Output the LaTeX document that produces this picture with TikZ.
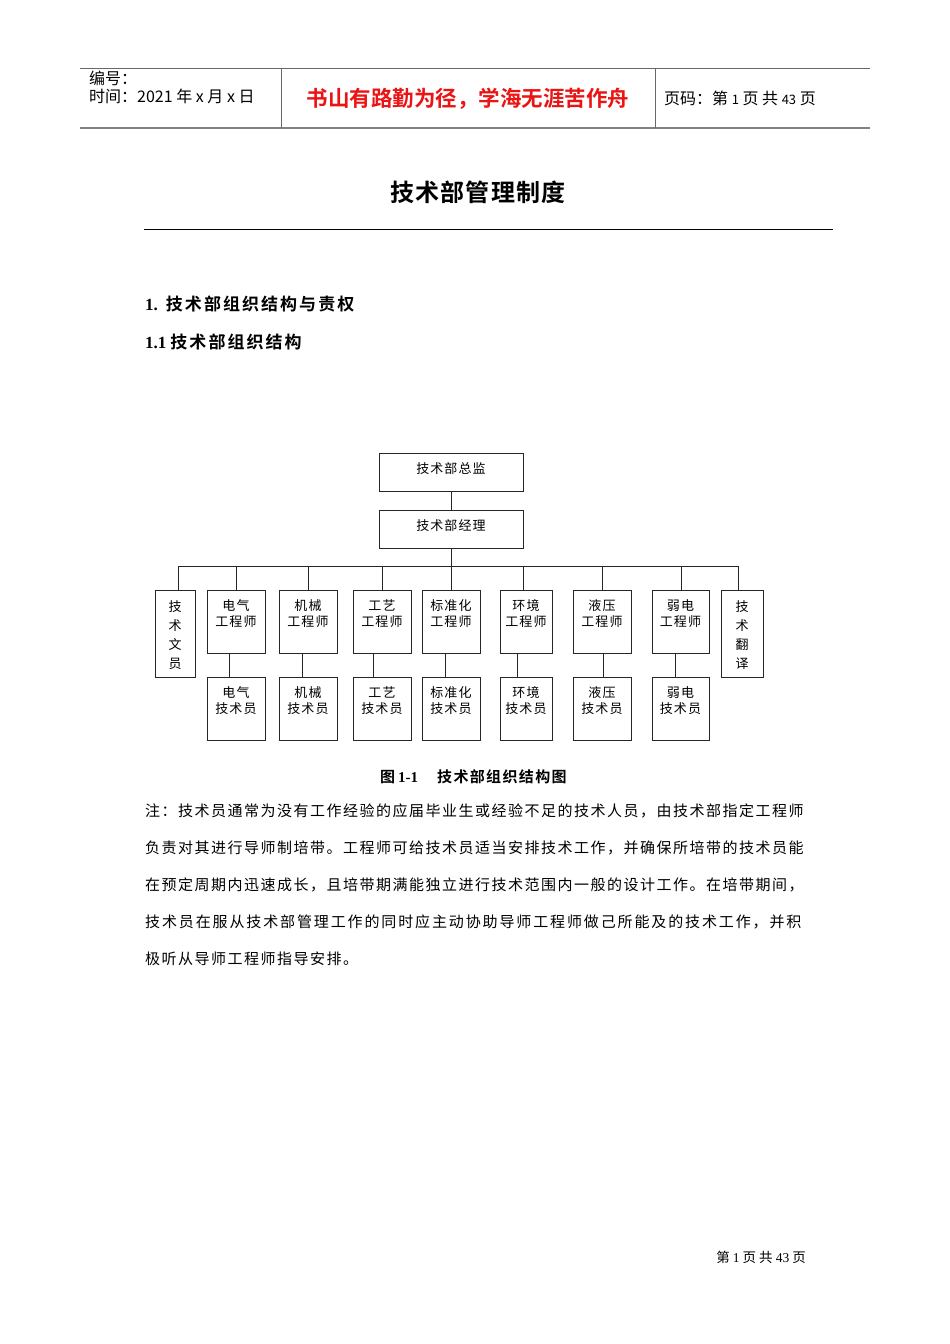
\documentclass[tikz,border=0pt]{standalone}
\usepackage{fontspec}
\setmainfont{Liberation Serif}
\newfontfamily\cjk{Noto Sans CJK SC}[BoldFont={Noto Sans CJK SC Bold}]
\usetikzlibrary{calc}
\definecolor{hdrgray}{RGB}{130,130,130}
\definecolor{motto}{RGB}{235,20,20}
\tikzset{
  bx/.style={draw=black!85, line width=1pt, inner sep=0pt},
  lbl/.style={font=\cjk\fontsize{13}{16}\selectfont\addfontfeature{LetterSpace=8}, align=center, inner sep=0pt, anchor=north},
  conn/.style={draw=black!85, line width=1pt},
  body/.style={font=\cjk\fontsize{15}{15}\selectfont\addfontfeature{LetterSpace=10}, anchor=west, inner sep=0pt},
  hdr/.style={font=\cjk\fontsize{16}{16}\selectfont, anchor=west, inner sep=0pt}
}
\begin{document}
\begin{tikzpicture}[x=1pt,y=-1pt]
\useasboundingbox (0,0) rectangle (950,1344);
% header
\draw[hdrgray!80!black, line width=0.8pt] (80,68) -- (870,68);
\draw[hdrgray, line width=2.2pt] (80,128) -- (870,128);
\draw[hdrgray!80!black, line width=0.8pt] (281,68) -- (281,128);
\draw[hdrgray!80!black, line width=0.8pt] (655,68) -- (655,128);
\node[hdr] (h1) at (89,78) {编号：};
\node[hdr] (h2) at (89,96) {时间：{\fontsize{16}{16}\selectfont 2021} 年 x 月 x 日};
\node[font=\cjk\fontsize{21.5}{21.5}\selectfont\bfseries, text=motto, inner sep=0pt] (mt) at (468,99) {书山有路勤为径，学海无涯苦作舟};
\node[hdr] (h3) at (664,98) {页码：第 {\fontsize{13}{13}\selectfont 1} 页 共 {\fontsize{13}{13}\selectfont 43} 页};
% title
\node[font=\cjk\fontsize{24}{24}\selectfont\bfseries\addfontfeature{LetterSpace=5}, inner sep=0pt] (title) at (478,192) {技术部管理制度};
\draw[black, line width=1pt] (144,229) -- (833,229);
\node[anchor=west, inner sep=0pt] (s1) at (145,304) {{\fontsize{17}{17}\selectfont\bfseries 1.}\hspace{8pt}{\cjk\fontsize{17}{17}\selectfont\bfseries\addfontfeature{LetterSpace=12}技术部组织结构与责权}};
\node[anchor=west, inner sep=0pt] (s2) at (145,342) {{\fontsize{17}{17}\selectfont\bfseries 1.1}\hspace{4pt}{\cjk\fontsize{17}{17}\selectfont\bfseries\addfontfeature{LetterSpace=12}技术部组织结构}};
% chart
\node[bx, minimum width=144, minimum height=38] (dir) at (451,472) {};
\node[lbl] (dirt) at ($(dir.north)+(0,10)$) {技术部总监};
\node[bx, minimum width=144, minimum height=38] (mgr) at (451,529) {};
\node[lbl] (mgrt) at ($(mgr.north)+(0,10)$) {技术部经理};
\coordinate (bc) at (451,566);
\coordinate (bL) at (178,566);
\coordinate (bR) at (738,566);
\draw[conn] (dir.south) -- (mgr.north);
\draw[conn] (mgr.south) -- (bc);
\draw[conn] (bL) -- (bR);
% side boxes
\node[bx, minimum width=40, minimum height=87] (tw) at (175,633.5) {};
\node[lbl, font=\cjk\fontsize{13}{19}\selectfont] (twt) at ($(tw.north)+(0,11)$) {技\\术\\文\\员};
\node[bx, minimum width=42, minimum height=87] (tf) at (742,633.5) {};
\node[lbl, font=\cjk\fontsize{13}{19}\selectfont] (tft) at ($(tf.north)+(0,11)$) {技\\术\\翻\\译};
\draw[conn] (bL) -- (bL |- tw.north);
\draw[conn] (bR) -- (bR |- tf.north);
% engineers and technicians
\foreach \n/\cx/\w/\dx/\vx/\a in {
  1/236/58/236/229/电气,
  2/308/58/308/302/机械,
  3/382/58/382/373/工艺,
  4/451/58/451/445/标准化,
  5/526/52/523/517/环境,
  6/602/58/602/603/液压,
  7/680.5/57/681/675/弱电}{
  \node[bx, minimum width=\w, minimum height=63] (e\n) at (\cx,621.5) {};
  \node[lbl] (et\n) at ($(e\n.north)+(0,10)$) {\a\\工程师};
  \node[bx, minimum width=\w, minimum height=63] (t\n) at (\cx,708.5) {};
  \node[lbl] (tt\n) at ($(t\n.north)+(0,10)$) {\a\\技术员};
  \coordinate (d\n) at (\dx,566);
  \draw[conn] (d\n) -- (d\n |- e\n.north);
  \draw[conn] ($(e\n.south)+(\vx-\cx,0)$) -- ($(t\n.north)+(\vx-\cx,0)$);
}
% caption
\node[anchor=west, inner sep=0pt] (cap) at (380,777) {{\cjk\fontsize{15}{15}\selectfont\bfseries 图}\hspace{3pt}{\fontsize{15}{15}\selectfont\bfseries 1-1}\hspace{19pt}{\cjk\fontsize{15}{15}\selectfont\bfseries\addfontfeature{LetterSpace=9}技术部组织结构图}};
% body
\node[body] (p1) at (145,811) {注：技术员通常为没有工作经验的应届毕业生或经验不足的技术人员，由技术部指定工程师};
\node[body] (p2) at (145,848) {负责对其进行导师制培带。工程师可给技术员适当安排技术工作，并确保所培带的技术员能};
\node[body] (p3) at (145,885) {在预定周期内迅速成长，且培带期满能独立进行技术范围内一般的设计工作。在培带期间，};
\node[body, font=\cjk\fontsize{15}{15}\selectfont\addfontfeature{LetterSpace=12.5}] (p4) at (145,922) {技术员在服从技术部管理工作的同时应主动协助导师工程师做己所能及的技术工作，并积};
\node[body] (p5) at (145,959) {极听从导师工程师指导安排。};
% footer
\node[font=\cjk\fontsize{13.5}{13.5}\selectfont, anchor=east, inner sep=0pt] (ft) at (806,1257) {第 {\rmfamily 1} 页 共 {\rmfamily 43} 页};
\end{tikzpicture}
\end{document}
